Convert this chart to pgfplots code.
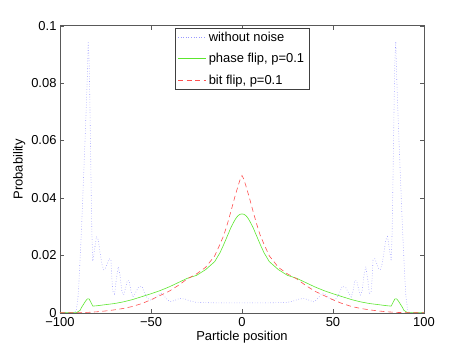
\documentclass[border=0pt]{standalone}
\usepackage{fontspec}
\setmainfont{Liberation Sans}
\usepackage{pgfplots}
\pgfplotsset{compat=1.18}
\definecolor{noiseless}{HTML}{9999FF}
\definecolor{phaseflip}{HTML}{5CE62E}
\definecolor{bitflip}{HTML}{FF5050}

\begin{document}
\begin{tikzpicture}
  \begin{axis}[scale only axis,width=364bp,height=287bp,
    xmin=-100,xmax=100,ymin=0,ymax=0.1,
    xtick={-100,-50,0,50,100},xticklabels={−100,−50,0,50,100},
    ytick={0,0.02,0.04,0.06,0.08,0.1},
    yticklabels={0,0.02,0.04,0.06,0.08,0.1},
    xlabel={Particle position},ylabel={Probability},
    tick align=inside,tick pos=both,major tick length=4bp,
    axis line style={black!65},tick style={black!65},
    font=\fontsize{13}{15}\selectfont,
    xticklabel style={yshift=-1bp},
    yticklabel style={xshift=0bp,inner ysep=1bp},
    xlabel style={yshift=2.5bp},ylabel style={yshift=-1bp},
    legend style={at={(0.5,0.993)},anchor=north,draw=black!75,
      font=\fontsize{13}{15}\selectfont,row sep=6.5bp,
      inner xsep=3bp,inner ysep=2bp},
    legend cell align=left,
    legend image code/.code={\draw[#1] (0cm,0cm) -- (1cm,0cm);}]
    % without noise
    \addplot[noiseless,dotted,line width=0.6pt] coordinates {
      (-100,0) (-92,0) (-91,0.001) (-90,0.006) (-89,0.018) (-88,0.032)
      (-87,0.048) (-86,0.064) (-85,0.082) (-84.5,0.0945) (-84,0.088)
      (-83.5,0.07) (-83,0.048) (-82.5,0.028) (-82,0.018) (-81,0.022)
      (-80,0.0265) (-79,0.0255) (-78,0.021) (-77,0.017) (-76,0.015)
      (-75,0.0155) (-74,0.0172) (-73,0.0188) (-72,0.0185) (-71.5,0.012)
      (-71,0.0075) (-70,0.0065) (-69,0.012) (-68,0.016) (-67,0.013)
      (-66,0.0075) (-65,0.0062) (-64,0.0085) (-63,0.0112) (-62,0.0112)
      (-61,0.0075) (-60,0.0055) (-59,0.0065) (-58,0.0075) (-57,0.0088)
      (-55,0.0092) (-54,0.0075) (-52,0.005) (-50,0.0044) (-48,0.005)
      (-46,0.0062) (-44.5,0.0068) (-43,0.006) (-41,0.0045) (-39.5,0.0038)
      (-37,0.0043) (-34,0.005) (-31,0.0047) (-28,0.004) (-25,0.0036)
      (-20,0.0035) (-10,0.0034) (0,0.0034)
      (10,0.0034) (20,0.0035) (25,0.0036) (28,0.004) (31,0.0047)
      (34,0.005) (37,0.0043) (39.5,0.0038) (41,0.0045) (43,0.006)
      (44.5,0.0068) (46,0.0062) (48,0.005) (50,0.0044) (52,0.005)
      (54,0.0075) (55,0.0092) (57,0.0088) (58,0.0075) (59,0.0065)
      (60,0.0055) (61,0.0075) (62,0.0112) (63,0.0112) (64,0.0085)
      (65,0.0062) (66,0.0075) (67,0.013) (68,0.016) (69,0.012)
      (70,0.0065) (71,0.0075) (71.5,0.012) (72,0.0185) (73,0.0188)
      (74,0.0172) (75,0.0155) (76,0.015) (77,0.017) (78,0.021)
      (79,0.0255) (80,0.0265) (81,0.022) (82,0.018) (82.5,0.028)
      (83,0.048) (83.5,0.07) (84,0.088) (84.5,0.0945) (85,0.082)
      (86,0.064) (87,0.048) (88,0.032) (89,0.018) (90,0.006) (91,0.001)
      (92,0) (100,0)};
    \addlegendentry{without noise}
    % phase flip
    \addplot[phaseflip,line width=0.6pt] coordinates {
      (-100,0) (-91,0) (-89,0.0008) (-88,0.002) (-86,0.004) (-85,0.0048)
      (-84,0.0048) (-83,0.0036) (-82,0.0023) (-80,0.0024) (-75,0.0028)
      (-70,0.0032) (-65,0.0038) (-60,0.0046) (-55,0.0056) (-50,0.0066)
      (-45,0.0077) (-40,0.009) (-35,0.0105) (-30,0.012) (-25,0.013)
      (-20,0.015) (-15,0.0178) (-12,0.021) (-10,0.0238) (-8,0.0268)
      (-6,0.0298) (-4,0.0322) (-3,0.0332) (-2,0.0339) (-1,0.0343) (0,0.0344)
      (1,0.0343) (2,0.0339) (3,0.0332) (4,0.0322) (6,0.0298) (8,0.0268)
      (10,0.0238) (12,0.021)
      (15,0.0178) (20,0.015) (25,0.013) (30,0.012) (35,0.0105) (40,0.009)
      (45,0.0077) (50,0.0066) (55,0.0056) (60,0.0046) (65,0.0038)
      (70,0.0032) (75,0.0028) (80,0.0024) (82,0.0023) (83,0.0036)
      (84,0.0048) (85,0.0048) (86,0.004) (88,0.002) (89,0.0008) (91,0)
      (100,0)};
    \addlegendentry{phase flip, p=0.1}
    % bit flip
    \addplot[bitflip,dash pattern=on 5bp off 3.5bp,line width=0.6pt] coordinates {
      (-100,0) (-90,0) (-85,0.0001) (-80,0.0003) (-75,0.0006) (-70,0.001)
      (-65,0.0015) (-60,0.0022) (-55,0.0032) (-50,0.0045) (-45,0.006)
      (-40,0.0075) (-35,0.0095) (-30,0.0118) (-25,0.0135) (-20,0.0158)
      (-15,0.0198) (-12,0.024) (-10,0.027) (-8,0.031) (-6,0.0355)
      (-4,0.0402) (-2,0.0445) (-1,0.0465) (0,0.0478)
      (1,0.0465) (2,0.0445) (4,0.0402) (6,0.0355) (8,0.031) (10,0.027) (12,0.024)
      (15,0.0198) (20,0.0158) (25,0.0135) (30,0.0118) (35,0.0095)
      (40,0.0075) (45,0.006) (50,0.0045) (55,0.0032) (60,0.0022)
      (65,0.0015) (70,0.001) (75,0.0006) (80,0.0003) (85,0.0001) (90,0)
      (100,0)};
    \addlegendentry{bit flip, p=0.1}
  \end{axis}
  \pgfresetboundingbox
  \path[use as bounding box] (current axis.south west) ++(-60bp,-39.3bp)
    rectangle ++(469bp,352bp);
\end{tikzpicture}
\end{document}
